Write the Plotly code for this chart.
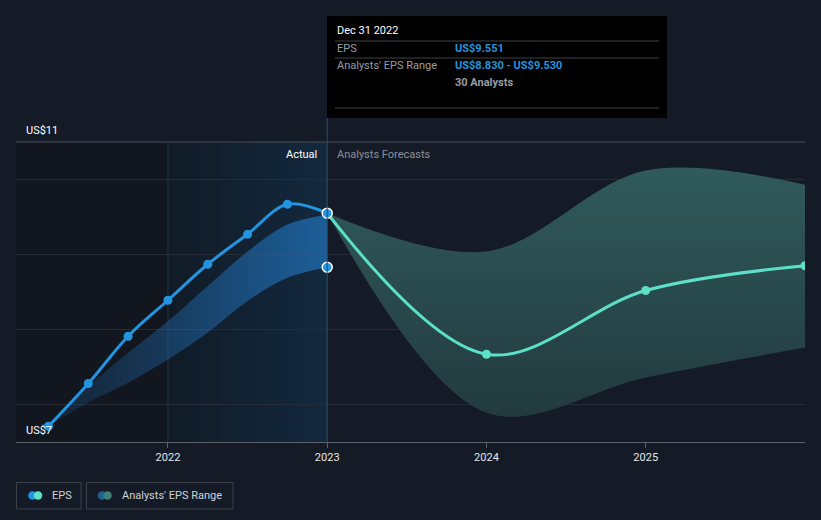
import plotly.graph_objects as go

# ---- data ----
actual_x = [2021.25, 2021.5, 2021.75, 2022.0, 2022.25, 2022.5, 2022.75, 2023.0]
actual_eps = [6.71, 7.28, 7.91, 8.39, 8.87, 9.27, 9.67, 9.551]
actual_low = [6.71, 7.03, 7.29, 7.60, 7.96, 8.38, 8.69, 8.83]
actual_high = [6.71, 7.24, 7.69, 8.11, 8.58, 9.04, 9.40, 9.53]

forecast_x = [2023.0, 2024.0, 2025.0, 2026.0]
forecast_eps = [9.551, 7.67, 8.52, 8.85]
forecast_low = [9.551, 6.89, 7.36, 7.76]
forecast_high = [9.551, 9.04, 10.12, 9.93]

hover_x = [2023.0, 2023.0]
hover_y = [9.551, 8.83]

year_ticks = [2022, 2023, 2024, 2025]
year_labels = ["2022", "2023", "2024", "2025"]

# ---- layout geometry ----
W, H = 821, 520
ML, MR, MT, MB = 16, 16, 142, 78
PW = W - ML - MR
PH = H - MT - MB
XR = [2021.046, 2026.0]
YR = [6.5, 10.5]

def px(xp):
    return (xp - ML) / PW

def py(yp):
    return (H - MB - yp) / PH

BG = "#151b26"
BLUE = "#2394df"
TEAL = "#5ee0c8"
FONT = "Roboto"

fig = go.Figure()

# actual range band
fig.add_trace(go.Scatter(x=actual_x, y=actual_low, mode="lines",
                         line=dict(width=0, shape="spline"), showlegend=False, hoverinfo="skip"))
fig.add_trace(go.Scatter(x=actual_x, y=actual_high, mode="lines",
                         line=dict(width=0, shape="spline"), fill="tonexty",
                         fillgradient=dict(type="horizontal",
                                           colorscale=[[0, "rgba(35,132,217,0.12)"],
                                                       [1, "rgba(35,132,217,0.58)"]]),
                         showlegend=False, hoverinfo="skip"))
# forecast range band
fig.add_trace(go.Scatter(x=forecast_x, y=forecast_low, mode="lines",
                         line=dict(width=0, shape="spline"), showlegend=False, hoverinfo="skip"))
fig.add_trace(go.Scatter(x=forecast_x, y=forecast_high, mode="lines",
                         line=dict(width=0, shape="spline"), fill="tonexty",
                         fillgradient=dict(type="vertical",
                                           colorscale=[[0, "rgba(34,58,62,1)"],
                                                       [1, "rgba(48,90,92,1)"]]),
                         showlegend=False, hoverinfo="skip"))
# forecast EPS line
fig.add_trace(go.Scatter(x=forecast_x, y=forecast_eps, mode="lines+markers",
                         line=dict(color=TEAL, width=3, shape="spline"),
                         marker=dict(color=TEAL, size=9),
                         showlegend=False, hoverinfo="skip"))
# actual EPS line
fig.add_trace(go.Scatter(x=actual_x, y=actual_eps, mode="lines+markers",
                         line=dict(color=BLUE, width=3, shape="spline"),
                         marker=dict(color=BLUE, size=9),
                         showlegend=False, hoverinfo="skip"))
# hover highlight points
fig.add_trace(go.Scatter(x=hover_x, y=hover_y, mode="markers",
                         marker=dict(color=BLUE, size=10, line=dict(color="white", width=1.5)),
                         showlegend=False, hoverinfo="skip", cliponaxis=False))

shapes = []
# dark left region
shapes.append(dict(type="rect", xref="x", yref="paper", x0=XR[0], x1=2022.0, y0=0, y1=1,
                   fillcolor="#12161f", line=dict(width=0), layer="below"))
# gradient past-year region (stacked strips, each extending to the end -> no seams)
N = 40
c0 = (17, 27, 39)
c1 = (19, 41, 62)
for i in range(N):
    t = i / (N - 1)
    c = tuple(int(round(c0[k] + (c1[k] - c0[k]) * t)) for k in range(3))
    shapes.append(dict(type="rect", xref="x", yref="paper",
                       x0=2022.0 + i / N, x1=2023.0, y0=0, y1=1,
                       fillcolor="rgb(%d,%d,%d)" % c, line=dict(width=0), layer="below"))
# vertical lines
shapes.append(dict(type="line", xref="x", yref="paper", x0=2022.0, x1=2022.0, y0=0, y1=1,
                   line=dict(color="#1d3448", width=1), layer="below"))
# top border line
shapes.append(dict(type="line", xref="paper", yref="paper", x0=0, x1=1, y0=1, y1=1,
                   line=dict(color="#4a4f58", width=1)))
# tooltip box
shapes.append(dict(type="rect", xref="paper", yref="paper", x0=px(327), x1=px(667),
                   y0=py(118), y1=py(16), fillcolor="#000000", line=dict(width=0)))
for yy in (41, 58, 108):
    shapes.append(dict(type="line", xref="paper", yref="paper", x0=px(335), x1=px(659),
                       y0=py(yy), y1=py(yy), line=dict(color="#3e4147", width=1)))
shapes.append(dict(type="line", xref="x", yref="paper", x0=2023.0, x1=2023.0, y0=0, y1=py(118),
                   line=dict(color="#24506f", width=1)))
# legend boxes
shapes.append(dict(type="rect", xref="paper", yref="paper", x0=px(16.5), x1=px(81), y0=py(509), y1=py(482.5),
                   line=dict(color="#3b4049", width=1), fillcolor="rgba(0,0,0,0)"))
shapes.append(dict(type="rect", xref="paper", yref="paper", x0=px(86.5), x1=px(233), y0=py(509), y1=py(482.5),
                   line=dict(color="#3b4049", width=1), fillcolor="rgba(0,0,0,0)"))
def circle(cx, cy, r, color):
    return dict(type="circle", xref="paper", yref="paper", x0=px(cx - r), x1=px(cx + r),
                y0=py(cy + r), y1=py(cy - r), fillcolor=color, line=dict(width=0))
shapes.append(circle(32.5, 495.5, 4.3, BLUE))
shapes.append(circle(38, 495.5, 4.3, TEAL))
shapes.append(circle(102, 495.5, 4.3, "#1f5f8e"))
shapes.append(circle(107.5, 495.5, 4.3, "#3f7f7a"))

ann = []
def text(xp, yp, s, color, size=11, xanchor="left", bold=False):
    ann.append(dict(xref="paper", yref="paper", x=px(xp), y=py(yp), text=("<b>%s</b>" % s) if bold else s,
                    showarrow=False, xanchor=xanchor, yanchor="middle",
                    font=dict(family=FONT, size=size, color=color)))

text(335, 31, "Dec 31 2022", "#ffffff", 11)
text(335, 49, "EPS", "#9a9da3", 11)
text(453, 49, "US$9.551", BLUE, 11, bold=True)
text(335, 66, "Analysts' EPS Range", "#9a9da3", 11)
text(453, 66, "US$8.830 - US$9.530", BLUE, 11, bold=True)
text(453, 83, "30 Analysts", "#9a9da3", 11, bold=True)
text(319, 154, "Actual", "#ffffff", 11, xanchor="right")
text(335, 154, "Analysts Forecasts", "#8c9096", 11)
text(24, 130, "US$11", "#ffffff", 11)
text(24, 430, "US$7", "#ffffff", 11)
text(50, 495.5, "EPS", "#cfd3d8", 11)
text(120, 495.5, "Analysts' EPS Range", "#cfd3d8", 11)

fig.update_layout(
    width=W, height=H,
    margin=dict(l=ML, r=MR, t=MT, b=MB, pad=0),
    paper_bgcolor=BG, plot_bgcolor=BG,
    showlegend=False,
    shapes=shapes, annotations=ann,
    hovermode=False,
    xaxis=dict(range=XR, tickvals=year_ticks, ticktext=year_labels, showgrid=False,
               zeroline=False, showline=True, linecolor="#5d6169", linewidth=1,
               ticks="outside", ticklen=5, tickcolor="#5d6169",
               tickfont=dict(family=FONT, size=11, color="#e6e6e6"), fixedrange=True),
    yaxis=dict(range=YR, tickvals=[7, 8, 9, 10], showticklabels=False, showgrid=True,
               gridcolor="#262c37", gridwidth=1, zeroline=False, showline=False, fixedrange=True),
)

fig.write_html("out.html", config=dict(displayModeBar=False))
